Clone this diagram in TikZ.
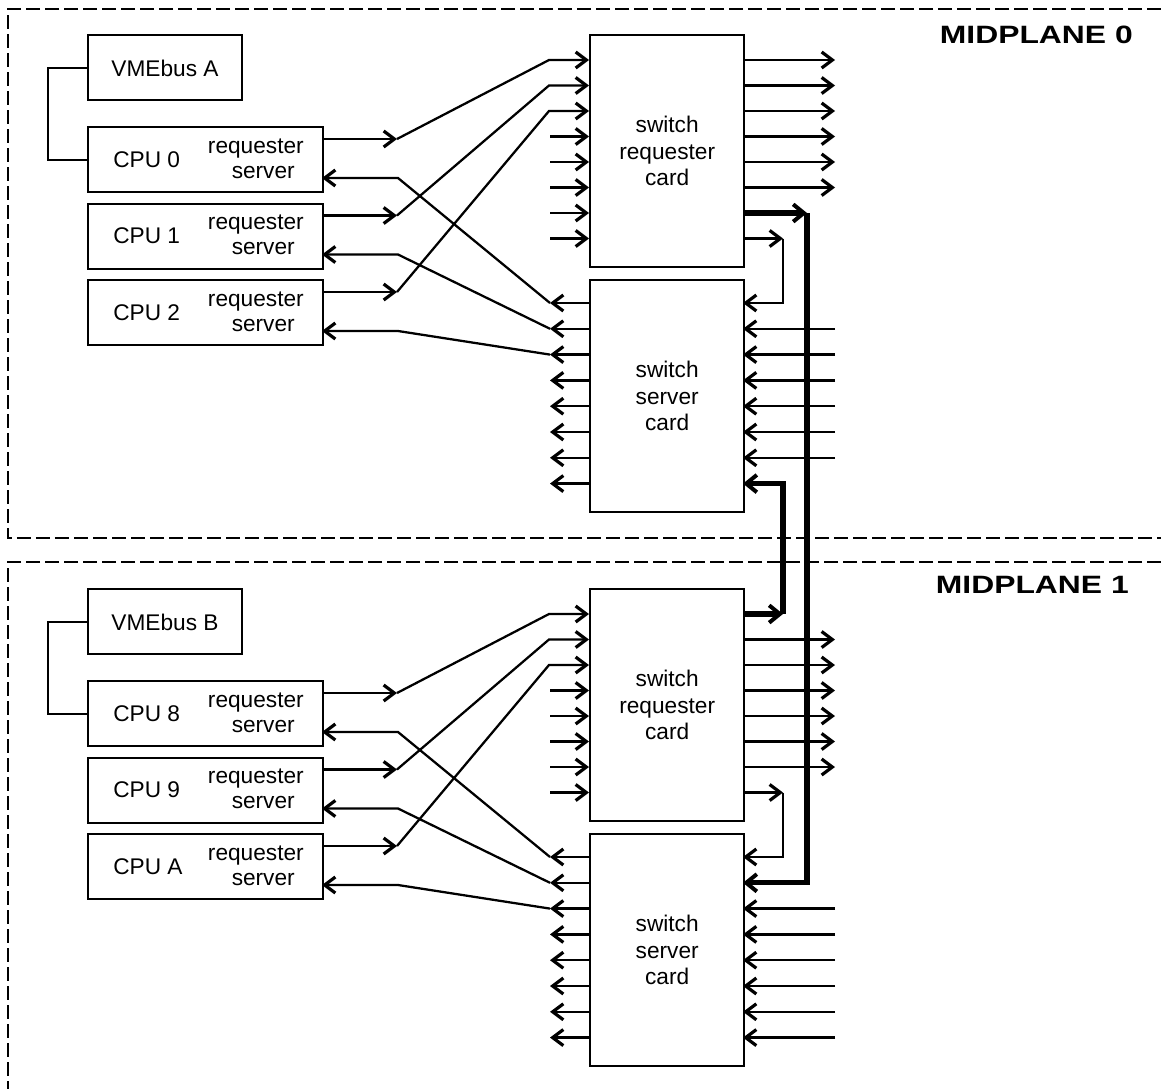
\documentclass[tikz,border=0pt]{standalone}
\usepackage{fontspec}
\setmainfont{Liberation Sans}
\newfontfamily\midfont{Liberation Sans Bold}
\usepackage{graphicx}
\usetikzlibrary{arrows.meta,calc}
\begin{document}
\begin{tikzpicture}[x=0.75pt,y=-0.75pt,
  box/.style={draw, line width=1.8pt, inner sep=0pt},
  vmebox/.style={box, anchor=north west, minimum width=115.5pt, minimum height=48.75pt},
  cpubox/.style={box, anchor=north west, minimum width=176.25pt, minimum height=48.75pt},
  cardbox/.style={box, anchor=north west, minimum width=115.5pt, minimum height=174pt, align=center, txt},
  txt/.style={font=\fontsize{17}{20}\selectfont, inner sep=0pt},
  ln/.style={line width=1.7pt},
  thk/.style={line width=3.8pt, line join=miter},
  arr/.style={-{Straight Barb[length=8pt,width=12pt,line width=2.4pt]}},
  arrT/.style={-{Straight Barb[length=8pt,width=13pt,line width=3pt]}},
  dsh/.style={line width=1.7pt, dash pattern=on 10.5pt off 3.75pt},
  mid/.style={font=\midfont\fontsize{18.8}{20}\selectfont, inner sep=0pt, anchor=base east}
]
\useasboundingbox (0,0) rectangle (1161,1089);

% midplane frames
\draw[dsh] (1161,9) -- (8,9) -- (8,538) -- (1161,538);
\draw[dsh] (1161,562) -- (8,562) -- (8,1089);
\node[mid] (mp0) at (1133,43) {\scalebox{1.27}[1]{MIDPLANE 0}};
\node[mid] (mp1) at (1129,593) {\scalebox{1.27}[1]{MIDPLANE 1}};

\foreach \m/\dy/\ca/\cb/\cc/\vl in {0/0/0/1/2/A, 1/554/8/9/A/B} {
  % VMEbus
  \node[vmebox, txt] (vme\m) at (87,{34+\dy}) {};
  \node[txt] (vmel\m) at (165,{68+\dy}) {VMEbus \vl};
  % cards
  \node[cardbox] (req\m) at (589,{34+\dy}) {switch\\requester\\card};
  \node[cardbox] (srv\m) at (589,{279+\dy}) {switch\\server\\card};
  % ports
  \foreach \i in {0,...,7} {
    \coordinate (ri\m-\i) at (589,{60+25.5*\i+\dy});
    \coordinate (ro\m-\i) at (743,{60+25.5*\i+\dy});
    \coordinate (si\m-\i) at (743,{303+25.8*\i+\dy});
    \coordinate (so\m-\i) at (589,{303+25.8*\i+\dy});
  }
  % short requester inputs
  \foreach \i in {3,...,7}
    \draw[ln,arr] ($(ri\m-\i)+(-39,0)$) -- (ri\m-\i);
  % server left outputs
  \foreach \i in {3,...,7}
    \draw[ln,arr] (so\m-\i) -- ++(-39,0);
  % CPUs
  \foreach \k/\cl in {0/\ca,1/\cb,2/\cc} {
    \pgfmathsetmacro\ytop{126+76.5*\k+\dy}
    \node[cpubox] (cpu\m\k) at (87,\ytop) {};
    \node[txt, anchor=base west] (cpul\m\k) at (113,{\ytop+41}) {CPU \cl};
    \node[txt, anchor=base east] (cpur\m\k) at (304,{\ytop+27}) {requester};
    \node[txt, anchor=base east] (cpus\m\k) at (295,{\ytop+52}) {server};
    \coordinate (cq\m\k) at (322,{\ytop+13});
    \coordinate (cs\m\k) at (322,{\ytop+52});
    \draw[ln,arr] (cq\m\k) -- ++(75,0) coordinate (bq\m\k);
    \draw[ln,arr] (bq\m\k) -- ($(ri\m-\k)+(-40,0)$) -- (ri\m-\k);
    \draw[ln,arr] (so\m-\k) -- ++(-39,0) coordinate (bs\m\k);
    \draw[ln,arr] (bs\m\k) -- ($(cs\m\k)+(76,0)$) -- (cs\m\k);
  }
  % VMEbus to CPU link
  \draw[ln] (vme\m.west) -- ++(-39,0) |- (cpu\m0.west);
}

% requester outputs to the right
\foreach \i in {0,...,5} \draw[ln,arr] (ro0-\i) -- ++(92,0);
\foreach \i in {1,...,6} \draw[ln,arr] (ro1-\i) -- ++(92,0);
% server inputs from the right
\foreach \i in {1,...,6} \draw[ln,arr] ($(si0-\i)+(92,0)$) -- (si0-\i);
\foreach \i in {2,...,7} \draw[ln,arr] ($(si1-\i)+(92,0)$) -- (si1-\i);

% local loops
\draw[ln,arr] (ro0-7) -- ++(40,0) coordinate (lp0);
\draw[ln,arr] (lp0) |- (si0-0);
\draw[ln,arr] (ro1-7) -- ++(40,0) coordinate (lp1);
\draw[ln,arr] (lp1) |- (si1-0);

% cross-midplane thick links
\draw[thk,arrT] (ro0-6) -- ++(64,0) coordinate (tk0);
\draw[thk,arrT] (tk0) |- (si1-1);
\draw[thk,arrT] (ro1-0) -- ++(40,0) coordinate (tk1);
\draw[thk,arrT] (tk1) |- (si0-7);
\end{tikzpicture}
\end{document}
